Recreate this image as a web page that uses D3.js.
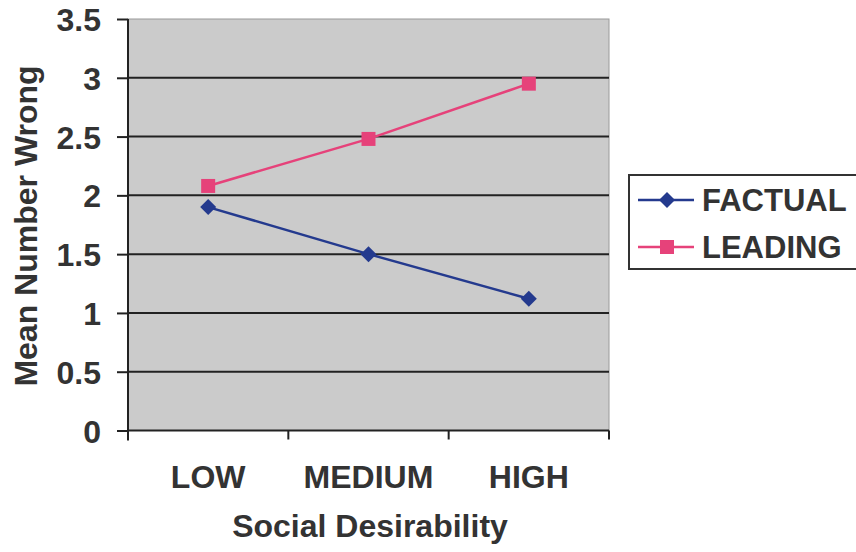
<!DOCTYPE html>
<html><head><meta charset="utf-8">
<script src="https://cdn.jsdelivr.net/npm/d3@7/dist/d3.min.js"></script>
<style>body{margin:0;background:#fff}svg{display:block}text{font-family:"Liberation Sans",Arial,sans-serif;font-weight:bold;fill:#333}</style>
</head><body>
<svg id="c" width="856" height="552"></svg>
<script>
const categories = ["LOW", "MEDIUM", "HIGH"];
const seriesNames = ["FACTUAL", "LEADING"];
const factual = [1.90, 1.50, 1.12];
const leading = [2.08, 2.48, 2.95];
const yTicks = [0, 0.5, 1, 1.5, 2, 2.5, 3, 3.5];
const colors = ["#243a8e", "#e6427a"];

const svg = d3.select("#c");
const L = 128, R = 609, T = 19, B = 430.5;
const x = d3.scaleBand().domain(categories).range([L, R]).padding(0);
const y = d3.scaleLinear().domain([0, 3.5]).range([B, T]);

// plot background
svg.append("rect").attr("x", L).attr("y", T).attr("width", R - L).attr("height", B - T)
  .attr("fill", "#cbcbcb").attr("stroke", "#9a9a9a").attr("stroke-width", 1);

// gridlines
svg.append("g").selectAll("line").data(yTicks.filter(d => d > 0 && d < 3.5)).join("line")
  .attr("x1", L).attr("x2", R).attr("y1", d => y(d)).attr("y2", d => y(d))
  .attr("stroke", "#222").attr("stroke-width", 2);

// y axis
const yAxis = svg.append("g").attr("transform", `translate(${L},0)`)
  .call(d3.axisLeft(y).tickValues(yTicks).tickSize(11).tickPadding(16).tickFormat(d => String(d)));
yAxis.select(".domain").remove();
yAxis.selectAll(".tick line").attr("stroke", "#222").attr("stroke-width", 2);
yAxis.selectAll(".tick text").attr("font-size", 32).attr("fill", "#333").attr("dy", "0.36em");
svg.append("line").attr("x1", L).attr("x2", L).attr("y1", T).attr("y2", B + 10)
  .attr("stroke", "#222").attr("stroke-width", 2);

// x axis
svg.append("line").attr("x1", L).attr("x2", R).attr("y1", B).attr("y2", B)
  .attr("stroke", "#222").attr("stroke-width", 2);
const xTickPos = categories.map(c => x(c)).concat([x(categories[categories.length - 1]) + x.bandwidth()]);
svg.append("g").selectAll("line").data(xTickPos).join("line")
  .attr("x1", d => d).attr("x2", d => d).attr("y1", B).attr("y2", B + 9)
  .attr("stroke", "#222").attr("stroke-width", 2);
svg.append("g").selectAll("text").data(categories).join("text")
  .attr("x", d => x(d) + x.bandwidth() / 2).attr("y", 488)
  .attr("text-anchor", "middle").attr("font-size", 32).text(d => d);

// axis titles
svg.append("text").attr("x", 370).attr("y", 537).attr("text-anchor", "middle")
  .attr("font-size", 32).text("Social Desirability");
svg.append("text").attr("transform", "translate(37,226) rotate(-90)").attr("text-anchor", "middle")
  .attr("font-size", 32).text("Mean Number Wrong");

// series
const cx = c => x(c) + x.bandwidth() / 2;
const line = d3.line().x((d, i) => cx(categories[i])).y(d => y(d));
const data = [factual, leading];
const diamond = "M0,-8L8,0L0,8L-8,0Z";
const square = "M-7,-7H7V7H-7Z";

data.forEach((vals, s) => {
  svg.append("path").datum(vals).attr("d", line).attr("fill", "none")
    .attr("stroke", colors[s]).attr("stroke-width", 2.5);
  svg.append("g").selectAll("path").data(vals).join("path")
    .attr("transform", (d, i) => `translate(${cx(categories[i])},${y(d)})`)
    .attr("d", s === 0 ? diamond : square).attr("fill", colors[s]);
});

// legend
const lg = svg.append("g");
lg.append("rect").attr("x", 629).attr("y", 175).attr("width", 240).attr("height", 94)
  .attr("fill", "#fff").attr("stroke", "#333").attr("stroke-width", 2);
seriesNames.forEach((n, s) => {
  const ly = 200 + s * 47;
  lg.append("line").attr("x1", 638).attr("x2", 694).attr("y1", ly).attr("y2", ly)
    .attr("stroke", colors[s]).attr("stroke-width", 2.5);
  lg.append("path").attr("transform", `translate(667,${ly})`)
    .attr("d", s === 0 ? diamond : square).attr("fill", colors[s]);
  lg.append("text").attr("x", 702).attr("y", ly).attr("dy", "0.36em")
    .attr("font-size", 31).text(n);
});
</script>
</body></html>
